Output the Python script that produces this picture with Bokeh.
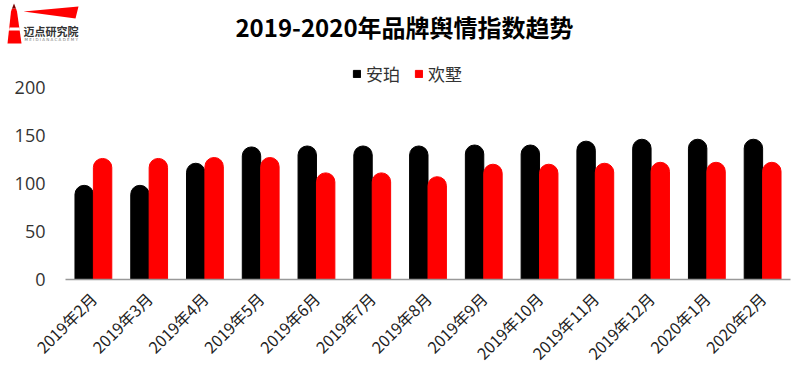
import math
from bokeh.plotting import figure
from bokeh.layouts import column, row
from bokeh.models import FactorRange, Range1d, Legend, LegendItem, Label
from bokeh.transform import dodge
from bokeh.embed import file_html
from bokeh.resources import INLINE

months = ["2019年2月", "2019年3月", "2019年4月", "2019年5月", "2019年6月", "2019年7月",
          "2019年8月", "2019年9月", "2019年10月", "2019年11月", "2019年12月", "2020年1月", "2020年2月"]
anpo = [98, 98, 121, 138, 139, 139, 139, 140, 140, 144, 146, 146, 146]
huanshu = [126, 126, 127, 127, 111, 111, 107, 120, 120, 121, 122, 122, 122]
series_names = ["安珀", "欢墅"]
title_text = "2019-2020年品牌舆情指数趋势"
logo_text = "迈点研究院"
logo_sub = "M E I D I A N   A C A D E M Y"

CJK = "Noto Sans CJK SC"

# ---------- header (logo + title) ----------
head = figure(width=800, height=60, x_range=Range1d(0, 800), y_range=Range1d(60, 0),
              output_backend="svg", toolbar_location=None,
              x_axis_location=None, y_axis_location=None,
              min_border_left=0, min_border_right=0, min_border_top=0, min_border_bottom=0)
head.grid.visible = False
head.outline_line_color = None

# lighthouse logo
head.patch([7, 21, 16.5, 15.5, 11.5, 10.5], [43, 43, 11, 8, 8, 11], color="#ff0000", line_color=None)
head.patch([11.5, 15.5, 13.5], [8, 8, 3], color="#7a0000", line_color=None)
head.patch([8.5, 19.5, 19.0, 9.0], [30, 30, 27, 27], color="white", line_color=None)
head.patch([23, 78, 75], [11, 6, 18], color="#ff0000", line_color=None)
head.add_layout(Label(x=23, y=30, text=logo_text, text_font=CJK, text_font_style="bold",
                      text_font_size="11px", text_baseline="middle", text_color="#333333"))
head.add_layout(Label(x=24, y=39, text=logo_sub, text_font="DejaVu Sans",
                      text_font_size="4px", text_baseline="middle", text_color="#777777"))

head.add_layout(Label(x=404, y=26, text=title_text, text_font=CJK, text_font_style="bold",
                      text_font_size="24px", text_align="center", text_baseline="middle",
                      text_color="black"))

# ---------- main chart ----------
p = figure(x_range=FactorRange(*months), y_range=Range1d(0, 228), width=800, height=316,
           output_backend="svg", toolbar_location=None,
           min_border_left=65, min_border_right=10, min_border_top=0, min_border_bottom=97)
p.outline_line_color = None

data = dict(m=months, a=anpo, h=huanshu)
r1 = p.vbar(x=dodge("m", -0.165, range=p.x_range), top="a", width=0.33, source=data,
            color="black", border_radius=(9, 9, 0, 0))
r2 = p.vbar(x=dodge("m", 0.165, range=p.x_range), top="h", width=0.33, source=data,
            color="#ff0000", border_radius=(9, 9, 0, 0))

p.xgrid.grid_line_color = None
p.ygrid.grid_line_color = None
p.yaxis.axis_line_color = None
p.yaxis.major_tick_line_color = None
p.yaxis.minor_tick_line_color = None
p.yaxis.ticker = [0, 50, 100, 150, 200]
p.yaxis.major_label_text_font = "Open Sans"
p.yaxis.major_label_text_font_size = "18px"
p.yaxis.major_label_text_color = "#333333"
p.yaxis.major_label_standoff = 14

p.xaxis.axis_line_color = "#999999"
p.xaxis.axis_line_width = 1.5
p.xaxis.major_tick_line_color = None
p.xaxis.minor_tick_line_color = None
p.xaxis.major_label_orientation = math.pi / 4
p.xaxis.major_label_text_font = CJK
p.xaxis.major_label_text_font_size = "16px"
p.xaxis.major_label_text_color = "#222222"
p.xaxis.major_label_standoff = 10

legend = Legend(items=[LegendItem(label=series_names[0], renderers=[r1]),
                       LegendItem(label=series_names[1], renderers=[r2])],
                location=(287, 193), orientation="horizontal",
                label_text_font=CJK, label_text_font_size="17px", label_text_color="#333333",
                glyph_width=9, glyph_height=9, spacing=14, label_standoff=5,
                border_line_color=None, background_fill_alpha=0, padding=2, margin=0)
p.add_layout(legend)

open("out.html", "w").write(file_html(column(row(head), row(p), spacing=0), INLINE))
